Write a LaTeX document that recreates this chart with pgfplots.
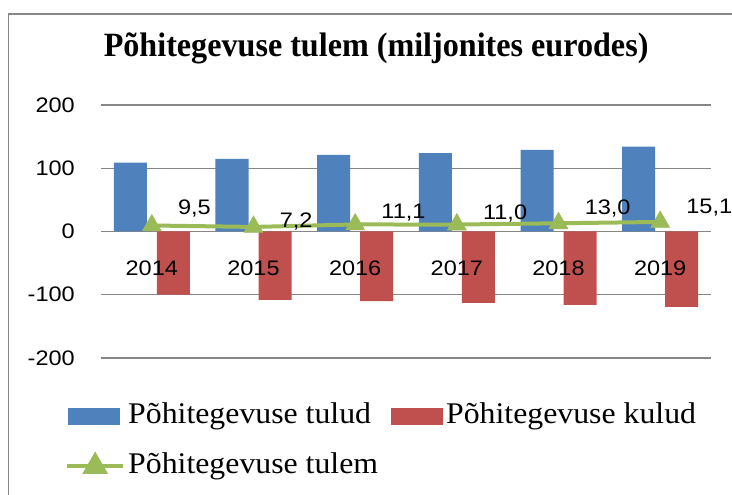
\documentclass[border=0pt]{standalone}
\usepackage{fontspec}
\setmainfont{Liberation Serif}
\newfontfamily\numfont[FakeStretch=1.12]{Liberation Sans}
\newfontfamily\titlef[FakeStretch=0.945]{Liberation Serif}
\newfontfamily\legf[FakeStretch=1.06]{Liberation Serif}
\usepackage{pgfplots}
\usepackage{pgfplotstable}
\pgfplotsset{compat=1.18}
\definecolor{cblue}{HTML}{4F81BD}
\definecolor{cred}{HTML}{C0504D}
\definecolor{cgreen}{HTML}{9BBB59}
\definecolor{cgrid}{HTML}{868686}
\definecolor{cframe}{HTML}{888888}

\pgfplotstableread{
x y dy label
0 9.5 17 9,5
1 7.2 5 7,2
2 11.1 11.5 11,1
3 11.0 11.5 11,0
4 13.0 15 13,0
5 15.1 14 15,1
}\tulem

\pgfplotsset{base/.style={
  at={(101pt,137pt)}, anchor=south west,
  scale only axis, width=610pt, height=253pt,
  xmin=-0.5, xmax=5.5, ymin=-200, ymax=200,
  axis line style={draw=none},
  major tick length=0pt,
}}

\begin{document}
\begin{tikzpicture}
\begin{axis}[
  base,
  ytick={-200,-100,0,100,200},
  yticklabels={-200,-100,0,100,200},
  xtick=\empty,
  ymajorgrids,
  grid style={cgrid, line width=1.1pt},
  yticklabel style={anchor=east, inner sep=0pt, xshift=-26pt, font=\numfont\fontsize{21}{24}\selectfont},
  title={\titlef\bfseries Põhitegevuse tulem (miljonites eurodes)},
  title style={at={(0.451,1.198)}, anchor=center, font=\fontsize{34}{38}\selectfont},
  legend columns=2,
  legend cell align=left,
  legend style={at={(-0.059,-0.1672)}, anchor=north west, draw=none, fill=none, inner sep=0pt,
    font=\legf\fontsize{30}{34}\selectfont,
    nodes={inner sep=2pt, text height=21pt, text depth=7pt},
    /tikz/every odd column/.append style={column sep=1pt},
    /tikz/every even column/.append style={column sep=11pt}, row sep=18pt},
]
\addplot[ybar, bar width=33pt, bar shift=-21.5pt, fill=cblue, draw=none,
  legend image code/.code={\fill[cblue] (0pt,-8.5pt) rectangle (52pt,8.5pt);}]
  coordinates {(0,109) (1,115) (2,121) (3,124) (4,129) (5,134)};
\addlegendentry{Põhitegevuse tulud}
\addplot[ybar, bar width=33pt, bar shift=21.5pt, fill=cred, draw=none,
  legend image code/.code={\fill[cred] (0pt,-8.5pt) rectangle (52pt,8.5pt);}]
  coordinates {(0,-100) (1,-108) (2,-110) (3,-113) (4,-116) (5,-119)};
\addlegendentry{Põhitegevuse kulud}
\addplot[cgreen, line width=4pt, mark=triangle*, mark size=11pt,
  mark options={solid, line width=0.5pt, fill=cgreen, draw=cgreen},
  nodes near coords, point meta=explicit symbolic,
  visualization depends on={\thisrow{dy} \as \dy},
  nodes near coords style={anchor=west, inner sep=0pt, xshift=26pt, yshift=\dy pt,
    font=\numfont\fontsize{21}{24}\selectfont, text=black},
  legend image code/.code={\draw[cgreen, line width=4pt] (-1pt,0pt) -- (55pt,0pt);
    \fill[cgreen] (27pt,0pt) +(90:11pt) -- +(210:11pt) -- +(330:11pt) -- cycle;}]
  table[x=x, y=y, meta=label] {\tulem};
\addlegendentry{Põhitegevuse tulem}
\end{axis}
% category labels on top of the bars
\begin{axis}[
  base,
  ytick=\empty,
  xtick={0,1,2,3,4,5},
  xticklabels={2014,2015,2016,2017,2018,2019},
  xticklabel style={anchor=center, inner sep=0pt, yshift=90pt, font=\numfont\fontsize{21}{24}\selectfont},
]
\end{axis}
\draw[cframe, line width=1.8pt, overlay] (8.5pt,-20pt) -- (8.5pt,481pt) -- (760pt,481pt);
\pgfresetboundingbox
\path[use as bounding box] (0,0) rectangle (732pt,495pt);
\end{tikzpicture}
\end{document}
